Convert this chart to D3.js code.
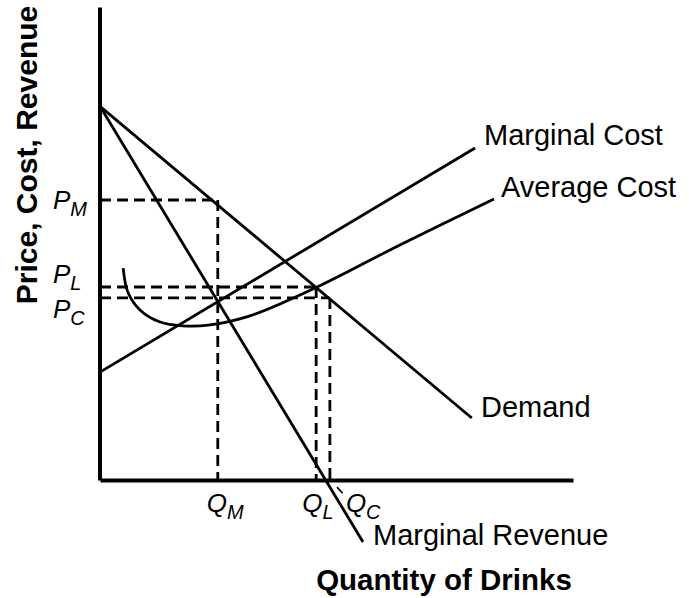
<!DOCTYPE html>
<html>
<head>
<meta charset="utf-8">
<script src="https://cdn.jsdelivr.net/npm/d3@7"></script>
<style>
    body { margin: 0; background: #fff; }
    svg text { font-family: "Liberation Sans", Arial, sans-serif; fill: #000; }
</style>
</head>
<body>
<div id="chart"></div>
<script>
// quantity / price in arbitrary units (0..100 on both axes)
const demand = [{q: 0, p: 79}, {q: 78.6, p: 13.1}]
const marginalRevenue = [{q: 0, p: 79}, {q: 55.6, p: -13.1}]
const marginalCost = [{q: 0, p: 22.8}, {q: 79.3, p: 70.2}]
const averageCost = [
    {q: 4.9, p: 44.8}, {q: 5.9, p: 39.7}, {q: 8.5, p: 35.9}, {q: 12.7, p: 33.4},
    {q: 17.5, p: 32.6}, {q: 23.3, p: 32.8}, {q: 31.7, p: 34.7}, {q: 45.9, p: 40.8},
    {q: 63.4, p: 49.7}, {q: 83.3, p: 59.4}
]
// equilibrium points: monopoly, limit, competitive
const levels = [
    {key: "M", q: 24.9, p: 59.2},
    {key: "L", q: 45.7, p: 40.8},
    {key: "C", q: 48.6, p: 38.5}
]
const curveLabels = ["Marginal Cost", "Average Cost", "Demand", "Marginal Revenue"]

const width = 689, height = 598
const svg = d3.select("#chart").append("svg")
    .attr("width", width)
    .attr("height", height)

const x = d3.scaleLinear().domain([0, 100]).range([100, 573])
const y = d3.scaleLinear().domain([0, 100]).range([480, 7])

const line = d3.line().x(d => x(d.q)).y(d => y(d.p))
const smooth = d3.line().x(d => x(d.q)).y(d => y(d.p)).curve(d3.curveCatmullRom)

/* DASHED GUIDES */
const guides = svg.append("g")
    .attr("fill", "none")
    .attr("stroke", "#000")
    .attr("stroke-width", 2.8)
    .attr("stroke-dasharray", "11,6")
guides.selectAll(".h")
    .data(levels)
    .join("path")
    .attr("d", d => line([{q: 0, p: d.p}, {q: d.q, p: d.p}]))
guides.selectAll(".v")
    .data(levels)
    .join("path")
    .attr("d", d => line([{q: d.q, p: d.p}, {q: d.q, p: 0}]))

/* CURVES */
const curves = svg.append("g")
    .attr("fill", "none")
    .attr("stroke", "#000")
    .attr("stroke-width", 2.8)
curves.append("path").attr("d", line(demand))
curves.append("path").attr("d", line(marginalRevenue))
curves.append("path").attr("d", line(marginalCost))
curves.append("path").attr("d", smooth(averageCost))

/* AXES */
svg.append("g")
    .attr("transform", `translate(0, ${y(0)})`)
    .call(d3.axisBottom(x).tickValues([]).tickSizeOuter(0))
    .select(".domain").attr("stroke-width", 4)
svg.append("g")
    .attr("transform", `translate(${x(0) - 0.5}, 0)`)
    .call(d3.axisLeft(y).tickValues([]).tickSizeOuter(0))
    .select(".domain").attr("stroke-width", 4)

// small leader mark next to Q_C
svg.append("path")
    .attr("d", line([{q: 50.1, p: -1.5}, {q: 51.3, p: -2.8}]))
    .attr("stroke", "#000")
    .attr("stroke-width", 1.6)

/* LEVEL LABELS */
function subLabel(px, py, letter, sub) {
    const t = svg.append("text")
        .attr("x", px)
        .attr("y", py)
        .style("font-style", "italic")
        .style("font-size", "26px")
    t.append("tspan").text(letter)
    t.append("tspan")
        .attr("dy", 7)
        .style("font-size", "20px")
        .text(sub)
}
const pLabelY = {M: 209, L: 283, C: 318}
levels.forEach(d => subLabel(53, pLabelY[d.key], "P", d.key))
const qLabelX = {M: x(levels[0].q) - 11, L: x(levels[1].q) - 14, C: x(levels[2].q) + 16}
levels.forEach(d => subLabel(qLabelX[d.key], 512, "Q", d.key))

/* CURVE LABELS */
const labelPos = [[484, 145], [501, 197], [481, 417], [373, 545]]
svg.append("g")
    .selectAll("text")
    .data(curveLabels)
    .join("text")
    .attr("x", (d, i) => labelPos[i][0])
    .attr("y", (d, i) => labelPos[i][1])
    .style("font-size", "29px")
    .text(d => d)

/* AXIS TITLES */
svg.append("text")
    .attr("x", 444)
    .attr("y", 590)
    .attr("text-anchor", "middle")
    .style("font-size", "29.5px")
    .style("font-weight", "bold")
    .text("Quantity of Drinks")
svg.append("text")
    .attr("transform", "translate(37, 155) rotate(-90)")
    .attr("text-anchor", "middle")
    .style("font-size", "30px")
    .style("font-weight", "bold")
    .text("Price, Cost, Revenue")
</script>
</body>
</html>
